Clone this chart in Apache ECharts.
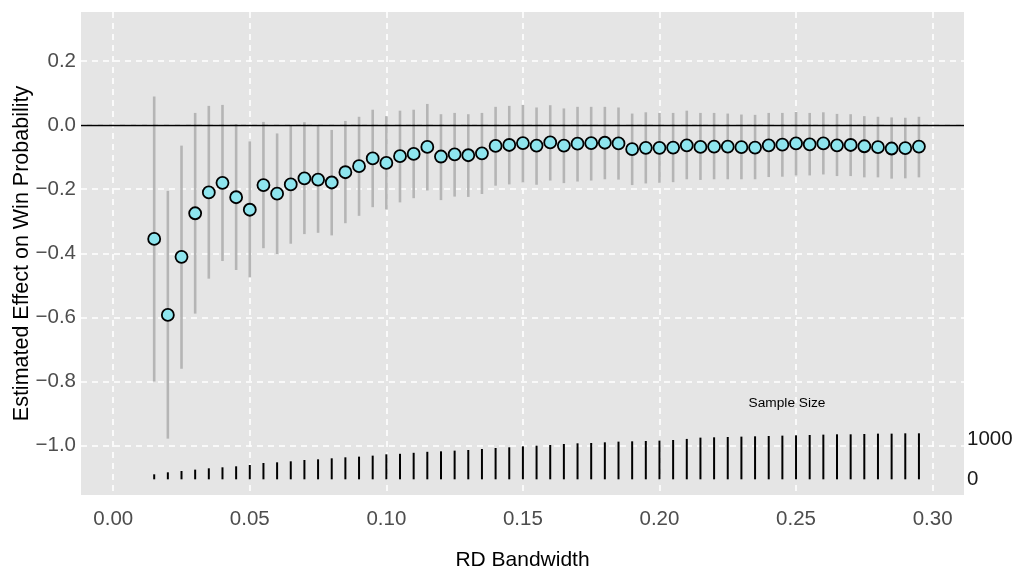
<!DOCTYPE html>
<html>
<head>
<meta charset="utf-8">
<script src="https://cdn.jsdelivr.net/npm/echarts@6/dist/echarts.min.js"></script>
<style>
  html, body { margin: 0; padding: 0; background: #fff; }
  #main { width: 1015px; height: 569px; }
</style>
</head>
<body>
<div id="main"></div>
<script>
// RD bandwidths
var bandwidth = [
  0.015, 0.020, 0.025, 0.030, 0.035, 0.040, 0.045, 0.050, 0.055, 0.060,
  0.065, 0.070, 0.075, 0.080, 0.085, 0.090, 0.095, 0.100, 0.105, 0.110,
  0.115, 0.120, 0.125, 0.130, 0.135, 0.140, 0.145, 0.150, 0.155, 0.160,
  0.165, 0.170, 0.175, 0.180, 0.185, 0.190, 0.195, 0.200, 0.205, 0.210,
  0.215, 0.220, 0.225, 0.230, 0.235, 0.240, 0.245, 0.250, 0.255, 0.260,
  0.265, 0.270, 0.275, 0.280, 0.285, 0.290, 0.295
]
// estimated effect
var estimate = [
  -0.355, -0.592, -0.411, -0.275, -0.210, -0.180, -0.225, -0.264, -0.187, -0.214,
  -0.185, -0.166, -0.170, -0.179, -0.147, -0.128, -0.104, -0.118, -0.097, -0.090,
  -0.068, -0.098, -0.091, -0.094, -0.088, -0.065, -0.062, -0.056, -0.064, -0.054,
  -0.064, -0.058, -0.056, -0.055, -0.057, -0.075, -0.071, -0.071, -0.070, -0.063,
  -0.068, -0.067, -0.067, -0.069, -0.070, -0.063, -0.061, -0.057, -0.060, -0.057,
  -0.063, -0.062, -0.066, -0.069, -0.073, -0.072, -0.067
]
var ciLow = [
  -0.800, -0.978, -0.760, -0.588, -0.479, -0.424, -0.452, -0.475, -0.384, -0.402,
  -0.370, -0.340, -0.336, -0.344, -0.306, -0.283, -0.256, -0.263, -0.241, -0.228,
  -0.204, -0.234, -0.223, -0.224, -0.215, -0.189, -0.185, -0.179, -0.186, -0.173,
  -0.181, -0.176, -0.173, -0.169, -0.170, -0.187, -0.182, -0.180, -0.178, -0.169,
  -0.171, -0.169, -0.169, -0.169, -0.169, -0.162, -0.161, -0.157, -0.157, -0.154,
  -0.159, -0.159, -0.163, -0.163, -0.167, -0.166, -0.163
]
var ciHigh = [
  0.089, -0.205, -0.064, 0.038, 0.060, 0.063, 0.003, -0.051, 0.010, -0.026,
  -0.002, 0.009, -0.003, -0.015, 0.013, 0.026, 0.048, 0.028, 0.045, 0.048,
  0.066, 0.034, 0.038, 0.034, 0.038, 0.057, 0.060, 0.063, 0.055, 0.062,
  0.052, 0.057, 0.057, 0.057, 0.055, 0.036, 0.040, 0.038, 0.038, 0.045,
  0.038, 0.038, 0.036, 0.033, 0.032, 0.038, 0.038, 0.041, 0.038, 0.040,
  0.035, 0.034, 0.028, 0.026, 0.024, 0.023, 0.026
]
// sample size in each window
var sampleSize = [
  125, 175, 208, 242, 275, 300, 325, 358, 408, 425,
  450, 483, 500, 525, 550, 567, 592, 625, 638, 663,
  688, 700, 717, 733, 758, 783, 800, 825, 842, 858,
  883, 900, 908, 925, 942, 950, 958, 967, 983, 1010,
  1042, 1050, 1058, 1067, 1075, 1083, 1092, 1100, 1108, 1117,
  1125, 1125, 1133, 1142, 1142, 1150, 1150
]
var xTicks = [0, 0.05, 0.10, 0.15, 0.20, 0.25, 0.30]
var yTicks = [-1.0, -0.8, -0.6, -0.4, -0.2, 0.0, 0.2]
var sizeTicks = [0, 1000]

var font = 'Liberation Sans, Arial, Helvetica, sans-serif'

var ciData = []
var pointData = []
var sizeData = []
bandwidth.forEach(function (b, i) {
  ciData.push([b, ciLow[i], ciHigh[i]])
  pointData.push([b, estimate[i]])
  sizeData.push([b, 0, sampleSize[i]])
})

function segment(color, width) {
  return function (params, api) {
    var a = api.coord([api.value(0), api.value(1)])
    var b = api.coord([api.value(0), api.value(2)])
    return {
      type: 'line',
      shape: { x1: a[0], y1: a[1], x2: b[0], y2: b[1] },
      style: { stroke: color, lineWidth: width }
    }
  }
}

var myChart = echarts.init(document.getElementById('main'))
myChart.setOption({
  animation: false,
  grid: {
    left: 81,
    right: 51,
    top: 12,
    bottom: 74,
    containLabel: false,
    outerBoundsMode: 'none',
    show: true,
    backgroundColor: '#E5E5E5',
    borderWidth: 0
  },
  xAxis: {
    type: 'value',
    min: -0.0118,
    max: 0.3115,
    name: 'RD Bandwidth',
    nameLocation: 'middle',
    nameGap: 55,
    nameTextStyle: { fontFamily: font, fontSize: 21, color: '#000' },
    axisLine: { show: false },
    axisTick: { show: false, customValues: xTicks },
    axisLabel: {
      customValues: xTicks,
      margin: 14,
      fontFamily: font,
      fontSize: 20.5,
      color: '#4D4D4D',
      formatter: function (v) { return v.toFixed(2) }
    },
    splitLine: { show: true, lineStyle: { color: '#fff', width: 1.6, type: [6, 5] } }
  },
  yAxis: [
    {
      type: 'value',
      min: -1.1538,
      max: 0.3528,
      name: 'Estimated Effect on Win Probability',
      nameLocation: 'middle',
      nameGap: 48,
      nameMoveOverlap: false,
      nameTextStyle: { fontFamily: font, fontSize: 21.5, color: '#000' },
      axisLine: { show: false },
      axisTick: { show: false, customValues: yTicks },
      axisLabel: {
        customValues: yTicks,
        margin: 5,
        fontFamily: font,
        fontSize: 20.5,
        color: '#4D4D4D',
        formatter: function (v) { return v.toFixed(1).replace('-', '\u2212') }
      },
      splitLine: { show: true, lineStyle: { color: '#fff', width: 1.6, type: [6, 5] } }
    },
    {
      type: 'value',
      position: 'right',
      min: -392,
      max: 11682,
      axisLine: { show: false },
      axisTick: { show: false, customValues: sizeTicks },
      axisLabel: {
        customValues: sizeTicks,
        margin: 3,
        fontFamily: font,
        fontSize: 20.5,
        color: '#1a1a1a',
        formatter: function (v) { return String(v) }
      },
      splitLine: { show: false }
    }
  ],
  graphic: [
    {
      type: 'text',
      x: 787,
      y: 403,
      style: {
        text: 'Sample Size',
        fontFamily: font,
        fontSize: 13.7,
        fill: '#000',
        align: 'center',
        verticalAlign: 'middle'
      }
    }
  ],
  series: [
    {
      type: 'custom',
      name: 'ci',
      data: ciData,
      renderItem: segment('#b5b5b5', 2.6),
      markLine: {
        silent: true,
        symbol: 'none',
        label: { show: false },
        lineStyle: { color: '#000', width: 1.3, type: 'solid' },
        data: [{ yAxis: 0 }]
      }
    },
    {
      type: 'custom',
      name: 'n',
      yAxisIndex: 1,
      data: sizeData,
      renderItem: segment('#000', 2)
    },
    {
      type: 'scatter',
      name: 'estimate',
      data: pointData,
      symbolSize: 12,
      z: 3,
      itemStyle: { color: '#8EE5EE', borderColor: '#000', borderWidth: 1.8, opacity: 1 }
    }
  ]
})
</script>
</body>
</html>
